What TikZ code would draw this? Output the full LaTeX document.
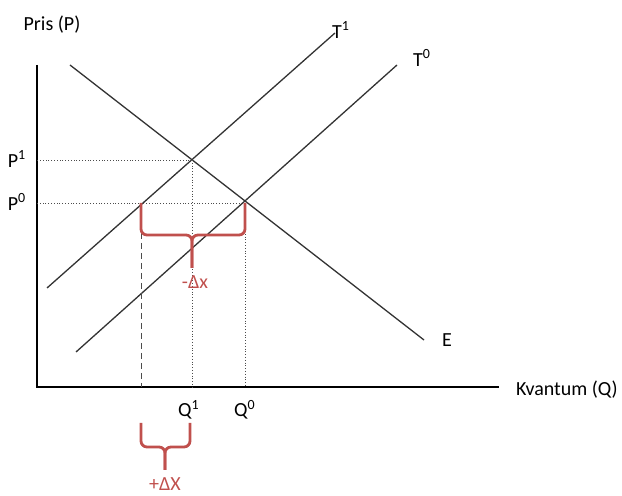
\documentclass[tikz,border=0pt]{standalone}
\usepackage{fontspec}
\setmainfont{Carlito}
\definecolor{bracered}{RGB}{192,80,77}
\tikzset{
  axis/.style={line width=0.8pt, black},
  curve/.style={line width=0.65pt, black!80},
  guide/.style={line width=0.4pt, black!70, densely dotted},
  brace/.style={line width=1.4pt, bracered, rounded corners=3pt},
  lbl/.style={inner sep=0pt, font=\fontsize{10}{12}\selectfont}
}
\begin{document}
\begin{tikzpicture}[x=0.5pt, y=-0.5pt]
  \useasboundingbox (0,0) rectangle (622,496);
  % points
  \coordinate (o) at (37,387);
  \coordinate (ytop) at (37,65);
  \coordinate (xend) at (499,387);
  \coordinate (a1) at (192,160);
  \coordinate (a0) at (245,203);
  \coordinate (b0) at (141,203);
  % axes
  \draw[axis] (ytop) -- (o) -- (xend);
  \node[lbl] (plab) at (52,25) {Pris (P)};
  \node[lbl] (qlab) at (567,390) {Kvantum (Q)};
  % curves
  \draw[curve] (70,65) -- (424,340);
  \draw[curve] (47,288) -- (335,33);
  \draw[curve] (76,352) -- (397,65);
  \node[lbl] (elab) at (447,340) {E};
  \node[lbl] (t1lab) at (341,30) {T\textsuperscript{1}};
  \node[lbl] (t0lab) at (422,58) {T\textsuperscript{0}};
  % guides
  \draw[guide] (a1) -- (a1 -| o);
  \draw[guide] (a0) -- (a0 -| o);
  \draw[guide] (a1) -- (a1 |- o);
  \draw[guide] (a0) -- (a0 |- o);
  \draw[guide, densely dashed] (b0) -- (b0 |- o);
  \node[lbl] (p1lab) at (17,159) {P\textsuperscript{1}};
  \node[lbl] (p0lab) at (17,202) {P\textsuperscript{0}};
  \node[lbl] (q1lab) at (189,410) {Q\textsuperscript{1}};
  \node[lbl] (q0lab) at (245,410) {Q\textsuperscript{0}};
  % braces
  \draw[brace] (b0) -- (141,235) -- (192,235) -- (192,268);
  \draw[brace] (a0) -- (245,235) -- (192,235) -- (192,268);
  \node[lbl, text=bracered] (dxm) at (195,282) {-Δx};
  \draw[brace] (141,423) -- (141,447) -- (165,447) -- (165,470);
  \draw[brace] (190,423) -- (190,447) -- (165,447) -- (165,470);
  \node[lbl, text=bracered] (dxp) at (165,484) {+ΔX};
\end{tikzpicture}
\end{document}
